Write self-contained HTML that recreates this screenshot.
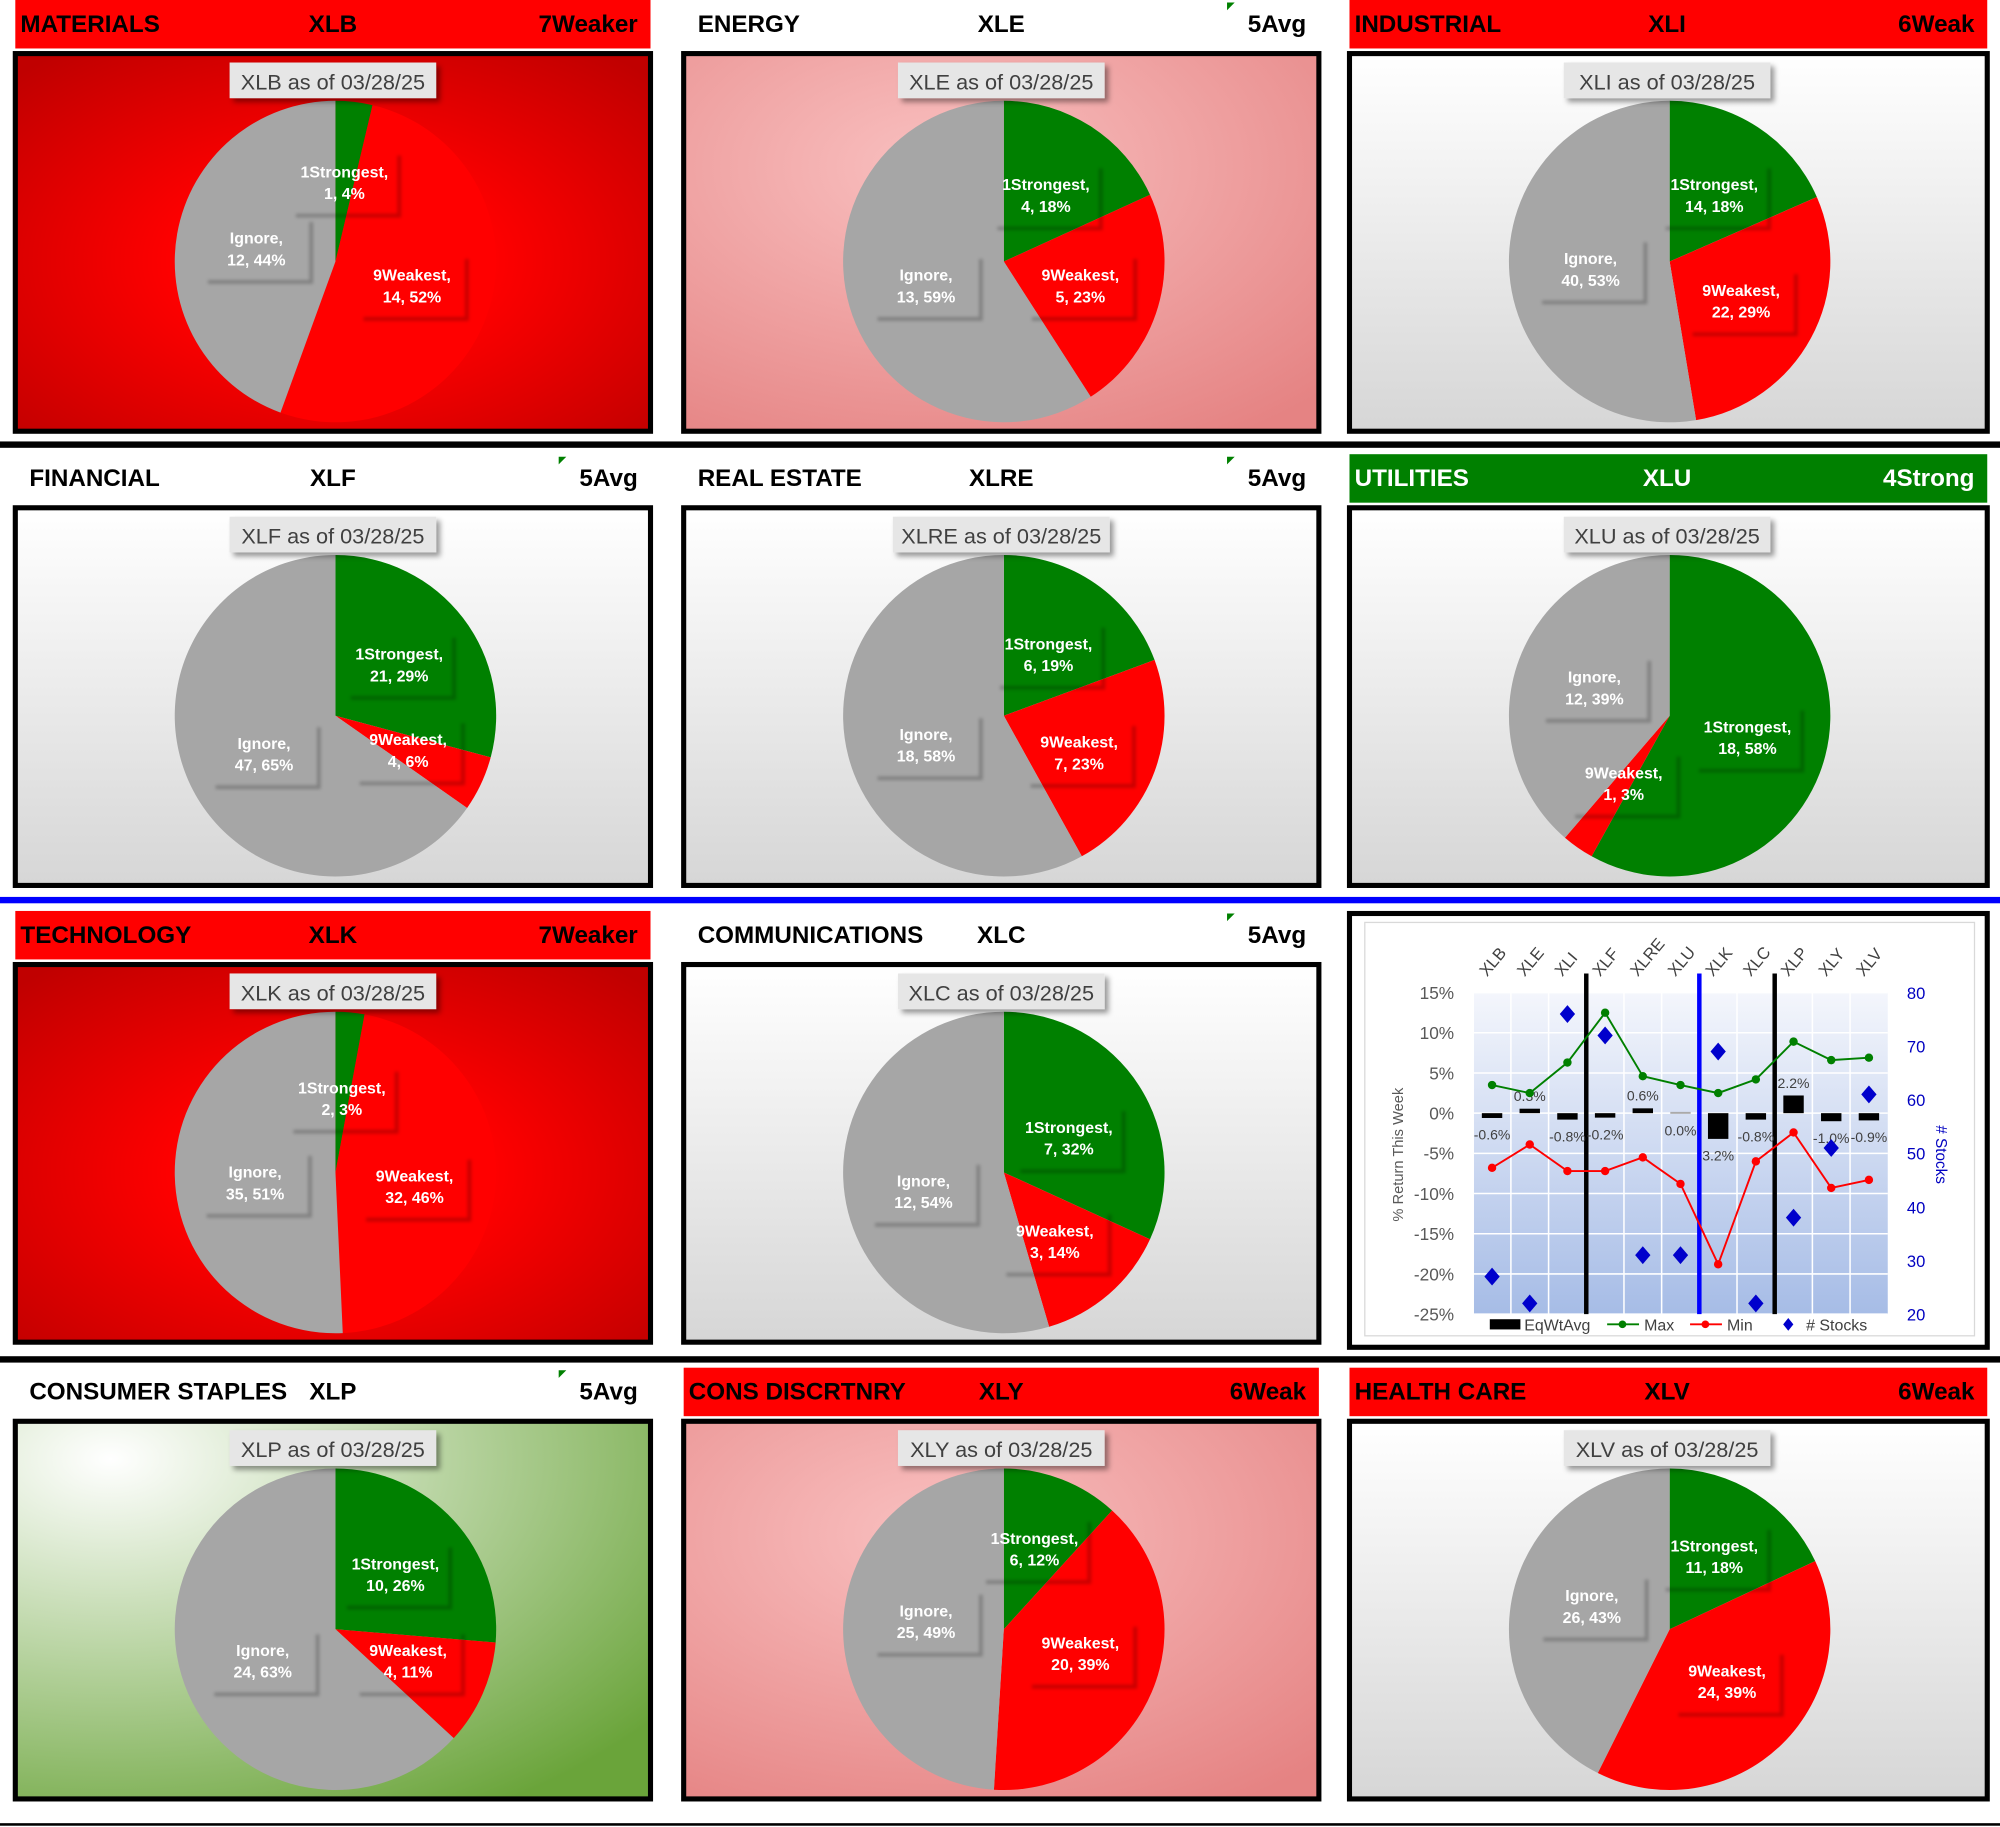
<!DOCTYPE html>
<html><head><meta charset="utf-8"><style>
html,body{margin:0;padding:0;background:#fff;}
svg{display:block;font-family:"Liberation Sans",sans-serif;}
</style></head><body>
<svg id="root" width="2000" height="1827" viewBox="0 0 1568 1432" preserveAspectRatio="none" xmlns="http://www.w3.org/2000/svg">
<defs>
<radialGradient id="bgRed" cx="50%" cy="55%" r="70%"><stop offset="0.35" stop-color="#ff0000"/><stop offset="1" stop-color="#c00000"/></radialGradient>
<radialGradient id="bgPink" cx="40%" cy="30%" r="85%"><stop offset="0" stop-color="#f9c0c0"/><stop offset="1" stop-color="#e58383"/></radialGradient>
<linearGradient id="bgGray" x1="0" y1="0" x2="0" y2="1"><stop offset="0" stop-color="#ffffff"/><stop offset="1" stop-color="#d6d6d6"/></linearGradient>
<radialGradient id="bgGreen" cx="15%" cy="10%" r="110%"><stop offset="0" stop-color="#ffffff"/><stop offset="1" stop-color="#6aa43a"/></radialGradient>
<linearGradient id="plotBg" x1="0" y1="0" x2="0" y2="1"><stop offset="0" stop-color="#f4f6fc"/><stop offset="1" stop-color="#a6bce6"/></linearGradient>
<filter id="sh" x="-20%" y="-20%" width="150%" height="150%"><feDropShadow dx="3" dy="3" stdDeviation="2" flood-color="#000" flood-opacity="0.4"/></filter>
<filter id="blur1" x="-20%" y="-20%" width="140%" height="140%"><feGaussianBlur stdDeviation="1.2"/></filter>
</defs>
<rect x="0" y="346" width="1568" height="5" fill="#000"/>
<rect x="0" y="703" width="1568" height="5" fill="#0000ff"/>
<rect x="0" y="1063" width="1568" height="5" fill="#000"/>
<rect x="0" y="1429" width="1568" height="2" fill="#000"/>
<g id="panels"></g>
<g id="chart"></g>
</svg>
<script>
const NS="http://www.w3.org/2000/svg";
function mk(tag,attrs,parent,text){const e=document.createElementNS(NS,tag);for(const k in attrs)e.setAttribute(k,attrs[k]);if(text!==undefined)e.textContent=text;parent.appendChild(e);return e;}

// Pie data
const tickers=["XLB","XLE","XLI","XLF","XLRE","XLU","XLK","XLC","XLP","XLY","XLV"];
const sectorNames=["MATERIALS","ENERGY","INDUSTRIAL","FINANCIAL","REAL ESTATE","UTILITIES","TECHNOLOGY","COMMUNICATIONS","CONSUMER STAPLES","CONS DISCRTNRY","HEALTH CARE"];
const ratings=["7Weaker","5Avg","6Weak","5Avg","5Avg","4Strong","7Weaker","5Avg","5Avg","6Weak","6Weak"];
const strongest=[1,4,14,21,6,18,2,7,10,6,11];
const weakest=[14,5,22,4,7,1,32,3,4,20,24];
const ignore=[12,13,40,47,18,12,35,12,24,25,26];
const strongPct=[4,18,18,29,19,58,3,32,26,12,18];
const weakPct=[52,23,29,6,23,3,46,14,11,39,39];
const ignorePct=[44,59,53,65,58,39,51,54,63,49,43];

const slots=[[0,0],[1,0],[2,0],[0,1],[1,1],[2,1],[0,2],[1,2],[0,3],[1,3],[2,3]];
const colX=[10,534,1056], colW=[502,502,504];
const rowY=[0,356,714,1072];
const headerFill={"7Weaker":"#ff0000","6Weak":"#ff0000","5Avg":"none","4Strong":"#008000"};
const bgFor=["bgRed","bgPink","bgGray","bgGray","bgGray","bgGray","bgRed","bgGray","bgGreen","bgPink","bgGray"];
const labOff=[[[7,-62],[60,19],[-62,-10]],[[33,-52],[60,19],[-61,19]],[[35,-52],[56,31],[-62,6]],[[50,-40],[57,27],[-56,30]],[[35,-48],[59,29],[-61,23]],[[61,17],[-36,53],[-59,-22]],[[5,-58],[62,11],[-63,8]],[[51,-27],[40,54],[-63,15]],[[47,-43],[57,25],[-57,25]],[[24,-63],[60,19],[-61,-6]],[[35,-57],[45,41],[-61,-18]]];

const panels=document.getElementById('panels');
tickers.forEach((tk,i)=>{
  const [c,r]=slots[i];const x=colX[c],w=colW[c],y=rowY[r];
  const g=mk('g',{},panels);
  
  
  const hf=headerFill[ratings[i]];
  if(hf!=="none"){const hr=mk('rect',{x:x+2,y:y,width:w-4,height:38,fill:hf},g);}
  else{const tri=mk('path',{d:`M${x+428} ${y+2} L${x+434} ${y+2} L${x+428} ${y+8}Z`,fill:'#008000'},g);}
  const tc=ratings[i]==="4Strong"?"#fff":"#000";
  const t1=mk('text',{x:x+(hf==="none"?13:6),y:y+25,'font-size':19,'font-weight':'bold',fill:tc},g,sectorNames[i]);
  const t2=mk('text',{x:x+251,y:y+25,'font-size':19,'font-weight':'bold',fill:tc,'text-anchor':'middle'},g,tk);
  const t3=mk('text',{x:x+w-12,y:y+25,'font-size':19,'font-weight':'bold',fill:tc,'text-anchor':'end'},g,ratings[i]);
  const by=y+40;
  const box=mk('rect',{x:x+2,y:by+2,width:w-4,height:296,fill:'url(#'+bgFor[i]+')',stroke:'#000','stroke-width':4},g);
  
  const cx=x+253,cy=by+165,R=126;
  const vals=[strongest[i],weakest[i],ignore[i]];const tot=vals.reduce((a,b)=>a+b,0);
  const pcts=[strongPct[i],weakPct[i],ignorePct[i]];
  const cols=['#008000','#ff0000','#a6a6a6'];const nm=['1Strongest','9Weakest','Ignore'];
  let a0=-Math.PI/2;
  vals.forEach((v,k)=>{
    const a1=a0+v/tot*2*Math.PI;
    const large=(a1-a0)>Math.PI?1:0;
    const p=mk('path',{d:`M${cx} ${cy} L${cx+R*Math.cos(a0)} ${cy+R*Math.sin(a0)} A${R} ${R} 0 ${large} 1 ${cx+R*Math.cos(a1)} ${cy+R*Math.sin(a1)}Z`,fill:cols[k]},g);
    
    a0=a1;
  });
  vals.forEach((v,k)=>{
    const [ox,oy]=labOff[i][k];const lx=cx+ox,ly=cy+oy;
    const lg=mk('g',{},g);
    mk('path',{d:`M${lx+43} ${ly-21} L${lx+43} ${ly+26} L${lx-38} ${ly+26}`,fill:'none',stroke:'rgba(0,0,0,0.22)','stroke-width':3,filter:'url(#blur1)'},lg);
    mk('text',{x:lx,y:ly-4,'font-size':12.5,'font-weight':'bold',fill:'#fff','text-anchor':'middle'},lg,nm[k]+',');
    mk('text',{x:lx,y:ly+13,'font-size':12.5,'font-weight':'bold',fill:'#fff','text-anchor':'middle'},lg,v+', '+pcts[k]+'%');
  });
  const tg=mk('g',{},g);
  const tw=tk.length>3?170:162;
  mk('rect',{x:cx-2-tw/2,y:by+9,width:tw,height:28,fill:'#e6e6e6',filter:'url(#sh)'},tg);
  mk('text',{x:cx-2,y:by+30,'font-size':17,fill:'#404040','text-anchor':'middle'},tg,tk+' as of 03/28/25');
});

// Line/bar chart data
const cats=["XLB","XLE","XLI","XLF","XLRE","XLU","XLK","XLC","XLP","XLY","XLV"];
const eqWtAvg=[-0.6,0.3,-0.8,-0.2,0.6,0.0,-3.2,-0.8,2.2,-1.0,-0.9];
const maxVals=[3.5,2.5,6.3,12.5,4.6,3.5,2.5,4.2,8.9,6.6,6.9];
const minVals=[-6.8,-3.9,-7.2,-7.2,-5.5,-8.8,-18.8,-6.0,-2.4,-9.3,-8.3];
const stockCounts=[27,22,76,72,31,31,69,22,38,51,61];
const leftTicks=[15,10,5,0,-5,-10,-15,-20,-25];
const rightTicks=[80,70,60,50,40,30,20];
const barLabels=["-0.6%","0.3%","-0.8%","-0.2%","0.6%","0.0%","3.2%","-0.8%","2.2%","-1.0%","-0.9%"];

const ch=document.getElementById('chart');
const pL=1155,pR=1480,pT=778,pB=1030;
const yL=v=>pT+(15-v)/40*(pB-pT);
const yR=v=>pT+(80-v)/60*(pB-pT);
const xC=i=>pL+(i+0.5)*(pR-pL)/cats.length;
let e;
e=mk('rect',{x:1058,y:716,width:500,height:340,fill:'#fff',stroke:'#000','stroke-width':4},ch);
e=mk('rect',{x:1070,y:723,width:478,height:324,fill:'#fff',stroke:'#d9d9d9','stroke-width':1},ch);
e=mk('rect',{x:pL,y:pT,width:pR-pL,height:pB-pT,fill:'url(#plotBg)'},ch);
leftTicks.forEach(t=>{
  const l=mk('line',{x1:pL,x2:pR,y1:yL(t),y2:yL(t),stroke:'#fff','stroke-width':1.2},ch);
  const tx=mk('text',{x:1140,y:yL(t)+5,'font-size':13.5,fill:'#595959','text-anchor':'end'},ch,t+'%');
});
cats.forEach((c,i)=>{
  const xg=pL+i*(pR-pL)/cats.length;
  const l=mk('line',{x1:xg,x2:xg,y1:pT,y2:pB,stroke:'#fff','stroke-width':1.2},ch);
  const tx=mk('text',{x:xC(i)-4,y:766,'font-size':13,fill:'#404040',transform:`rotate(-50 ${xC(i)-4} 766)`},ch,c);
});
rightTicks.forEach(t=>{
  const tx=mk('text',{x:1495,y:yR(t)+5,'font-size':13,fill:'#0000c0'},ch,t);
});
e=mk('text',{x:1100,y:905,'font-size':11.5,fill:'#595959','text-anchor':'middle',transform:'rotate(-90 1100 905)'},ch,'% Return This Week');
e=mk('text',{x:1518,y:905,'font-size':12,fill:'#0000c0','text-anchor':'middle',transform:'rotate(90 1518 905)'},ch,'# Stocks');
[[2.5,'#000'],[5.5,'#0000ff'],[7.5,'#000']].forEach(([p,col])=>{
  const xx=pL+(p+0.5)*(pR-pL)/cats.length;
  const l=mk('line',{x1:xx,x2:xx,y1:763,y2:pB,stroke:col,'stroke-width':3.5},ch);
});
eqWtAvg.forEach((v,i)=>{
  let y0=yL(0),y1=yL(v);let top=Math.min(y0,y1),h=Math.abs(y1-y0);
  if(h<3.5){h=3.5;top=v>=0?y0-3.5:y0;}
  if(v===0){top=y0-1;h=1.5;}
  const b=mk('rect',{x:xC(i)-8,y:top,width:16,height:h,fill:v===0?'#aaa':'#000'},ch);
  
  const ly=v>0?top-6:top+h+17;
  const t=mk('text',{x:xC(i),y:ly,'font-size':11,fill:'#404040','text-anchor':'middle'},ch,barLabels[i]);
  
});
function series(vals,col,name){
  const pl=mk('polyline',{points:vals.map((v,i)=>xC(i)+','+yL(v)).join(' '),fill:'none',stroke:col,'stroke-width':1.5},ch);
  
  vals.forEach((v,i)=>{const c=mk('circle',{cx:xC(i),cy:yL(v),r:3.3,fill:col},ch);});
}
series(maxVals,'#008000','max');
series(minVals,'#ff0000','min');
stockCounts.forEach((v,i)=>{
  const x=xC(i),y=yR(v);
  const d=mk('path',{d:`M${x} ${y-7} L${x+6} ${y} L${x} ${y+7} L${x-6} ${y}Z`,fill:'#0000cc'},ch);
  
});
const lg=mk('g',{},ch);
mk('rect',{x:1168,y:1034,width:24,height:8,fill:'#000'},lg);
mk('text',{x:1195,y:1043,'font-size':12.5,fill:'#404040'},lg,'EqWtAvg');
mk('line',{x1:1260,x2:1285,y1:1038,y2:1038,stroke:'#008000','stroke-width':1.5},lg);
mk('circle',{cx:1272,cy:1038,r:3,fill:'#008000'},lg);
mk('text',{x:1289,y:1043,'font-size':12.5,fill:'#404040'},lg,'Max');
mk('line',{x1:1325,x2:1350,y1:1038,y2:1038,stroke:'#ff0000','stroke-width':1.5},lg);
mk('circle',{cx:1337,cy:1038,r:3,fill:'#ff0000'},lg);
mk('text',{x:1354,y:1043,'font-size':12.5,fill:'#404040'},lg,'Min');
mk('path',{d:'M1402 1033 L1406 1038 L1402 1043 L1398 1038Z',fill:'#0000cc'},lg);
mk('text',{x:1416,y:1043,'font-size':12.5,fill:'#404040'},lg,'# Stocks');
</script>
</body></html>
